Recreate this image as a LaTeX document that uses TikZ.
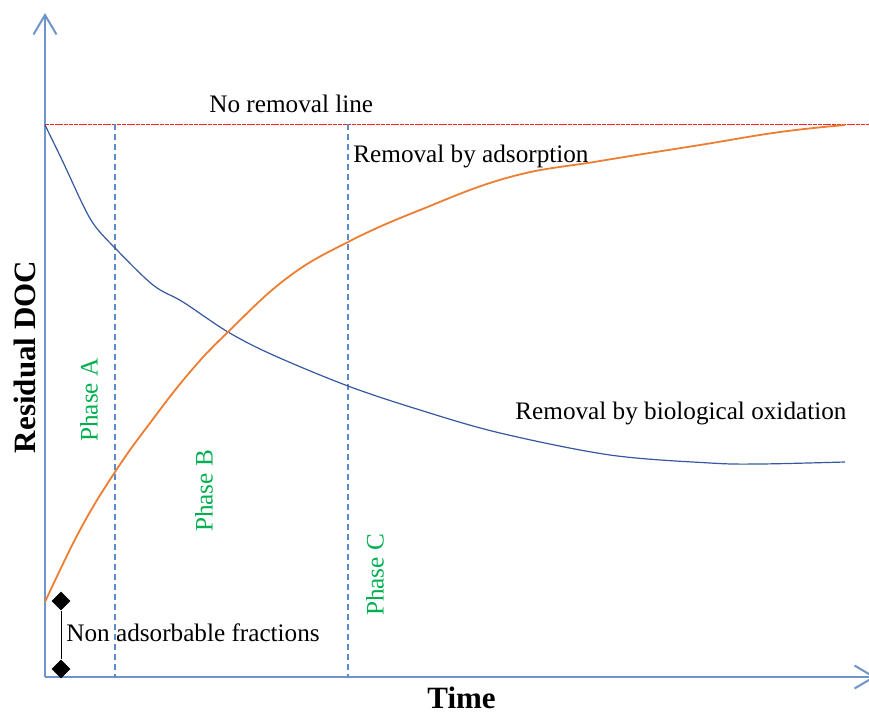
\documentclass[tikz,border=0pt]{standalone}
\usepackage{fontspec}
\setmainfont{Liberation Serif}
\usetikzlibrary{arrows.meta,shapes.geometric}
\definecolor{axisblue}{HTML}{6F94CC}
\definecolor{phaseblue}{HTML}{5B8BC9}
\definecolor{bioblue}{HTML}{3558A0}
\definecolor{adsorange}{HTML}{ED7D31}
\definecolor{phasegreen}{HTML}{00B050}
\definecolor{noremred}{HTML}{FF2020}
\tikzset{
  axis/.style={draw=axisblue, line width=1pt,
    -{Straight Barb[length=9.75pt,width=11.5pt,line width=1pt]}},
  phaseline/.style={draw=phaseblue, line width=1pt, dash pattern=on 3pt off 2pt},
  noremoval/.style={draw=noremred, line width=0.5pt, dash pattern=on 2pt off 0.4pt},
  biocurve/.style={draw=bioblue, line width=0.6pt},
  adscurve/.style={draw=adsorange, line width=0.9pt},
  lbl/.style={font=\fontsize{12.6}{15}\selectfont, inner sep=0pt, anchor=base west},
  phaselbl/.style={font=\fontsize{12.6}{15}\selectfont, text=phasegreen, inner sep=0pt, rotate=90},
  axislbl/.style={font=\fontsize{15.5}{18}\selectfont\bfseries, inner sep=0pt},
  marker/.style={diamond, fill=black, inner sep=0pt, minimum size=9.5pt},
}
\begin{document}
\begin{tikzpicture}[x=0.5pt,y=-0.5pt]
\useasboundingbox (0,0) rectangle (869,713);
\clip (0,0) rectangle (869,713);

% axes
\coordinate (origin) at (45,677);
\coordinate (ytop) at (45,13);
\coordinate (xend) at (876,677);
\draw[axis] (origin) -- (ytop);
\draw[axis] (origin) -- (xend);

% no removal line
\coordinate (nr0) at (45,124);
\coordinate (nr1) at (869,124);
\draw[noremoval] (nr0) -- (nr1);

% phase boundaries
\coordinate (pa) at (115,124);
\coordinate (pab) at (115,677);
\coordinate (pb) at (348,124);
\coordinate (pbb) at (348,677);
\draw[phaseline] (pa) -- (pab);
\draw[phaseline] (pb) -- (pbb);

% removal by biological oxidation
\draw[biocurve] plot[smooth, tension=0.55] coordinates {
  (45,125) (63,162) (83,205) (95,226) (115,248) (153,285) (183,302)
  (228,332) (273,355) (348,386) (420,410) (500,433) (610,455)
  (710,463) (760,464) (845,462)};

% removal by adsorption
\draw[adscurve] plot[smooth, tension=0.7] coordinates {
  (45,602) (80,530) (115,472) (150,423) (190,372) (228,332)
  (287,278) (348,242) (420,210) (510,177) (600,161)
  (700,145) (780,132) (845,125)};

% non adsorbable fraction marker
\node[marker] (dtop) at (61,601) {};
\node[marker] (dbot) at (61,669) {};
\draw[black, line width=0.5pt] (dtop) -- (dbot);

% labels
\node[lbl] (lnr) at (209,112) {No removal line};
\node[lbl] (lads) at (353,162) {Removal by adsorption};
\node[lbl] (lbio) at (515,419) {Removal by biological oxidation};
\node[lbl] (lnon) at (66,641) {Non adsorbable fractions};
\node[phaselbl] (pha) at (89,400) {Phase A};
\node[phaselbl] (phb) at (204,491) {Phase B};
\node[phaselbl] (phc) at (375,575) {Phase C};
\node[axislbl, rotate=90] (ylab) at (25,357) {Residual DOC};
\node[axislbl, anchor=base west] (xlab) at (427,708) {Time};
\end{tikzpicture}
\end{document}
